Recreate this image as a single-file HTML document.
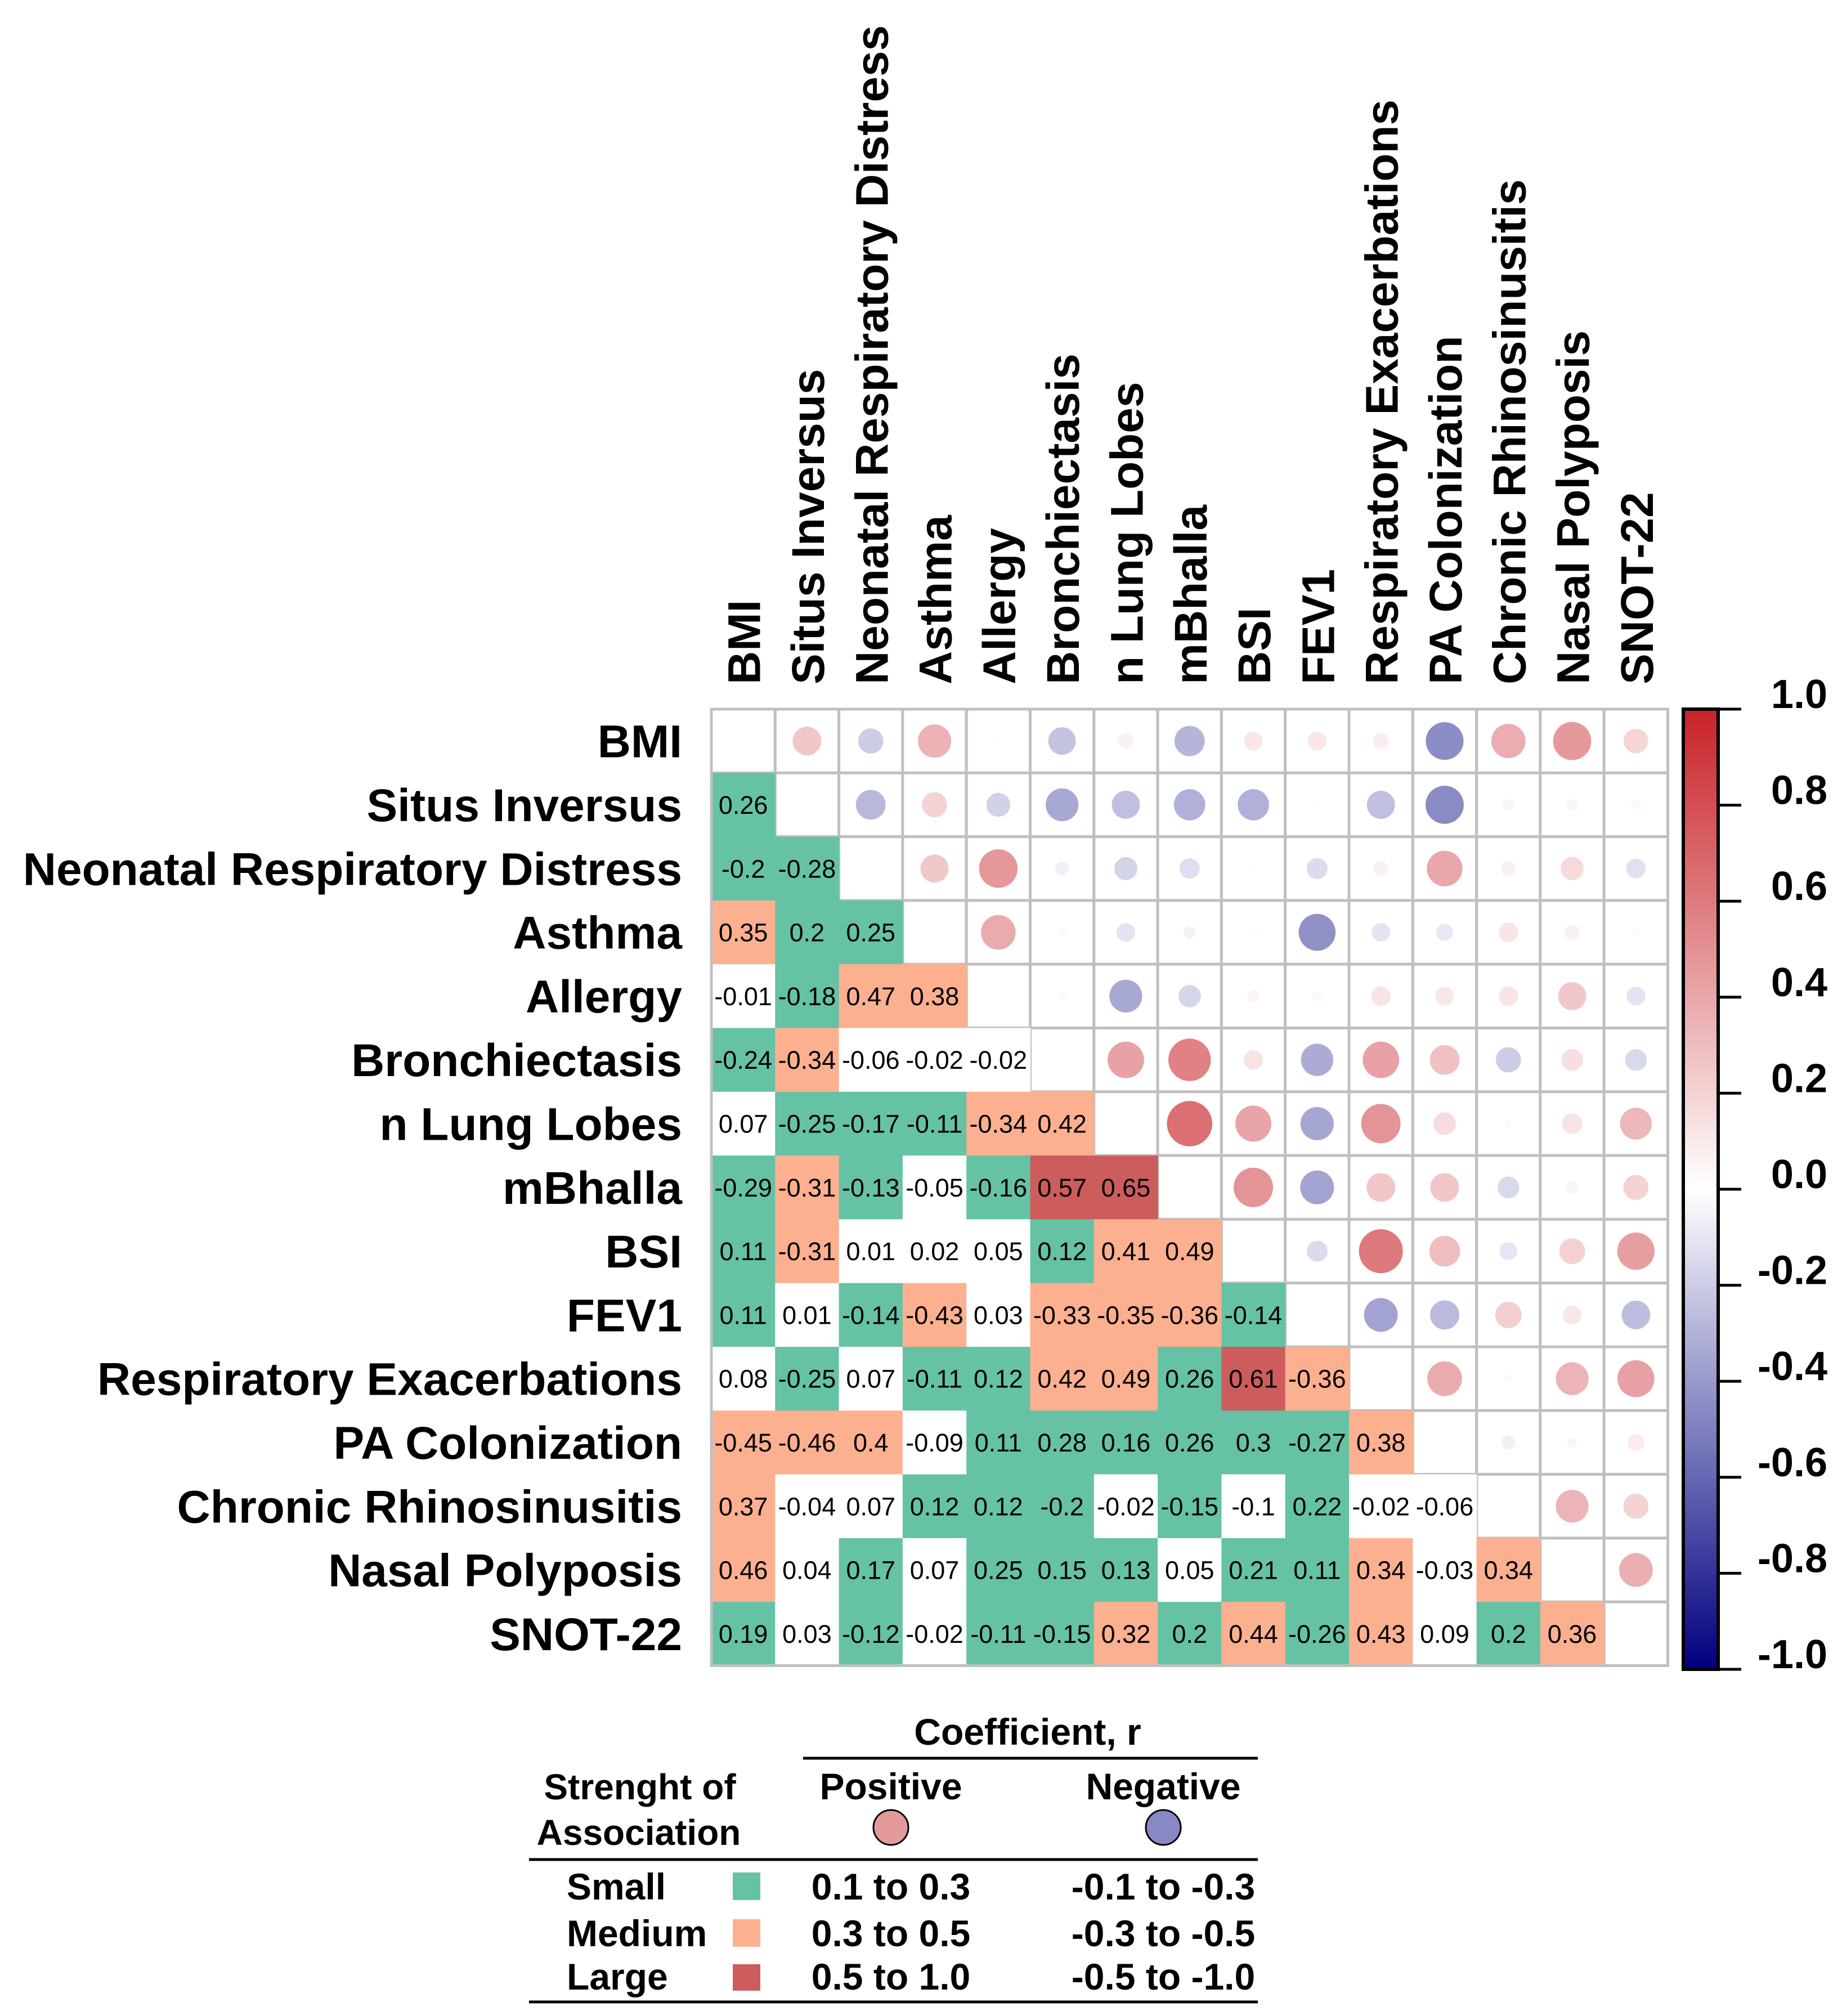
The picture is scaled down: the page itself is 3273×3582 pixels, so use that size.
<!DOCTYPE html>
<html><head><meta charset="utf-8">
<style>
html,body{margin:0;padding:0;background:#fff;}
svg{display:block;font-family:"Liberation Sans",Arial,sans-serif;}
</style></head>
<body>
<svg id="chart" width="3273" height="3582" viewBox="0 0 3273 3582" xmlns="http://www.w3.org/2000/svg">
<defs>
<linearGradient id="cbar" x1="0" y1="0" x2="0" y2="1">
<stop offset="0" stop-color="#c82228"/>
<stop offset="0.5" stop-color="#ffffff"/>
<stop offset="1" stop-color="#000080"/>
</linearGradient>
</defs>
<g id="grid"></g>
<g id="labels"></g>
<g id="colorbar"></g>
<g id="legend">
  <text x="1826" y="3100" font-size="66" font-weight="bold" text-anchor="middle">Coefficient, r</text>
  <line x1="1427" y1="3124" x2="2235" y2="3124" stroke="#000" stroke-width="5"/>
  <text x="1137" y="3197" font-size="64" font-weight="bold" text-anchor="middle">Strenght of</text>
  <text x="1135" y="3278" font-size="64" font-weight="bold" text-anchor="middle">Association</text>
  <text x="1583" y="3197" font-size="66" font-weight="bold" text-anchor="middle">Positive</text>
  <text x="2067" y="3197" font-size="66" font-weight="bold" text-anchor="middle">Negative</text>
  <circle cx="1583" cy="3247" r="31" fill="#e49a9a" stroke="#000" stroke-width="3"/>
  <circle cx="2067" cy="3247" r="31" fill="#8888c4" stroke="#000" stroke-width="3"/>
  <line x1="940" y1="3304" x2="2235" y2="3304" stroke="#000" stroke-width="5"/>
  <text x="1007" y="3375" font-size="66" font-weight="bold">Small</text>
  <rect x="1302" y="3327" width="49" height="49" fill="#66c2a5"/>
  <text x="1583" y="3375" font-size="66" font-weight="bold" text-anchor="middle">0.1 to 0.3</text>
  <text x="2067" y="3375" font-size="66" font-weight="bold" text-anchor="middle">-0.1 to -0.3</text>
  <text x="1007" y="3458" font-size="66" font-weight="bold">Medium</text>
  <rect x="1302" y="3410" width="49" height="49" fill="#fcb08f"/>
  <text x="1583" y="3458" font-size="66" font-weight="bold" text-anchor="middle">0.3 to 0.5</text>
  <text x="2067" y="3458" font-size="66" font-weight="bold" text-anchor="middle">-0.3 to -0.5</text>
  <text x="1007" y="3535" font-size="66" font-weight="bold">Large</text>
  <rect x="1302" y="3490" width="49" height="47" fill="#cd5c5c"/>
  <text x="1583" y="3535" font-size="66" font-weight="bold" text-anchor="middle">0.5 to 1.0</text>
  <text x="2067" y="3535" font-size="66" font-weight="bold" text-anchor="middle">-0.5 to -1.0</text>
  <line x1="940" y1="3557" x2="2235" y2="3557" stroke="#000" stroke-width="5"/>
</g>
</svg>
<script>
const variables = ["BMI","Situs Inversus","Neonatal Respiratory Distress","Asthma","Allergy","Bronchiectasis","n Lung Lobes","mBhalla","BSI","FEV1","Respiratory Exacerbations","PA Colonization","Chronic Rhinosinusitis","Nasal Polyposis","SNOT-22"];
const rowSitus = [0.26];
const rowNRD = [-0.2,-0.28];
const rowAsthma = [0.35,0.2,0.25];
const rowAllergy = [-0.01,-0.18,0.47,0.38];
const rowBronch = [-0.24,-0.34,-0.06,-0.02,-0.02];
const rowLobes = [0.07,-0.25,-0.17,-0.11,-0.34,0.42];
const rowBhalla = [-0.29,-0.31,-0.13,-0.05,-0.16,0.57,0.65];
const rowBSI = [0.11,-0.31,0.01,0.02,0.05,0.12,0.41,0.49];
const rowFEV1 = [0.11,0.01,-0.14,-0.43,0.03,-0.33,-0.35,-0.36,-0.14];
const rowExac = [0.08,-0.25,0.07,-0.11,0.12,0.42,0.49,0.26,0.61,-0.36];
const rowPA = [-0.45,-0.46,0.4,-0.09,0.11,0.28,0.16,0.26,0.3,-0.27,0.38];
const rowCRS = [0.37,-0.04,0.07,0.12,0.12,-0.2,-0.02,-0.15,-0.1,0.22,-0.02,-0.06];
const rowNP = [0.46,0.04,0.17,0.07,0.25,0.15,0.13,0.05,0.21,0.11,0.34,-0.03,0.34];
const rowSNOT = [0.19,0.03,-0.12,-0.02,-0.11,-0.15,0.32,0.2,0.44,-0.26,0.43,0.09,0.2,0.36];
const colorbarTicks = [1.0,0.8,0.6,0.4,0.2,0.0,-0.2,-0.4,-0.6,-0.8,-1.0];
const colorbarTickLabels = ["1.0","0.8","0.6","0.4","0.2","0.0","-0.2","-0.4","-0.6","-0.8","-1.0"];

const lower = [[],rowSitus,rowNRD,rowAsthma,rowAllergy,rowBronch,rowLobes,rowBhalla,rowBSI,rowFEV1,rowExac,rowPA,rowCRS,rowNP,rowSNOT];
const NS="http://www.w3.org/2000/svg";
const gx0=1264, gy0=1260, cell=113.3, n=variables.length;
function xPos(j){return gx0+j*cell;}
function yPos(i){return gy0+i*cell;}
function corr(i,j){return i>j?lower[i][j]:lower[j][i];}
function fillFor(r){const a=Math.abs(r); if(a<=0.1) return "#ffffff"; if(a<=0.3) return "#66c2a5"; if(a<0.5) return "#fcb08f"; return "#cd5c5c";}
function circColor(r){
  const a=Math.min(1,Math.abs(r)); const end=r>=0?[200,34,40]:[0,0,128];
  const c=end.map(v=>Math.round(255+(v-255)*a)); return "rgb("+c.join(",")+")";
}
function el(tag,attrs,parent){const e=document.createElementNS(NS,tag);for(const k in attrs)e.setAttribute(k,attrs[k]);parent.appendChild(e);return e;}
const grid=document.getElementById('grid');
for(let i=0;i<n;i++){for(let j=i;j<n;j++){
  const r=el('rect',{x:xPos(j),y:yPos(i),width:cell,height:cell,fill:'#fff',stroke:'#c0c0c0','stroke-width':5},grid);
  
  
}}
for(let i=1;i<n;i++){for(let j=0;j<i;j++){
  const v=corr(i,j);
  const r=el('rect',{x:xPos(j),y:yPos(i),width:cell+0.6,height:cell+0.6,fill:fillFor(v)},grid);
  
  
}}
for(let i=1;i<n;i++){for(let j=0;j<i;j++){
  const v=corr(i,j);
  const t=el('text',{x:xPos(j)+cell/2,y:yPos(i)+cell/2+16,'font-size':45,'text-anchor':'middle',fill:'#000'},grid);
  t.textContent=String(v);
  
  
}}
for(let i=0;i<n;i++){for(let j=i+1;j<n;j++){
  const v=corr(i,j);
  const c=el('circle',{cx:xPos(j)+cell/2,cy:yPos(i)+cell/2,r:50*Math.sqrt(Math.abs(v)),fill:circColor(v)},grid);
  
  
}}
const border=el('rect',{x:gx0,y:gy0,width:cell*n,height:cell*n,fill:'none',stroke:'#c0c0c0','stroke-width':5},grid);


const labels=document.getElementById('labels');
for(let i=0;i<n;i++){
  const t=el('text',{x:1212,y:yPos(i)+cell/2+29,'font-size':82,'font-weight':'bold','text-anchor':'end'},labels);
  t.textContent=variables[i];
  
  
  const cx=xPos(i)+cell/2+30, cy=1216;
  const c=el('text',{x:cx,y:cy,'font-size':82,'font-weight':'bold',transform:'rotate(-90 '+cx+' '+cy+')'},labels);
  c.textContent=variables[i];
  
  
}
const cb=document.getElementById('colorbar');
const cbTop=1260, cbBot=2966;
function cbY(v){return cbTop+(1-v)/2*(cbBot-cbTop);}
const bar=el('rect',{x:2991,y:cbTop,width:62,height:cbBot-cbTop,fill:'url(#cbar)',stroke:'#000','stroke-width':6},cb);


for(let k=0;k<colorbarTicks.length;k++){
  const y=cbY(colorbarTicks[k]);
  const l=el('line',{x1:3054,y1:y,x2:3094,y2:y,stroke:'#000','stroke-width':5},cb);
  
  
  const t=el('text',{x:3247,y:y-2,'font-size':72,'font-weight':'bold','text-anchor':'end'},cb);
  t.textContent=colorbarTickLabels[k];
  
  
}
</script>
</body></html>
